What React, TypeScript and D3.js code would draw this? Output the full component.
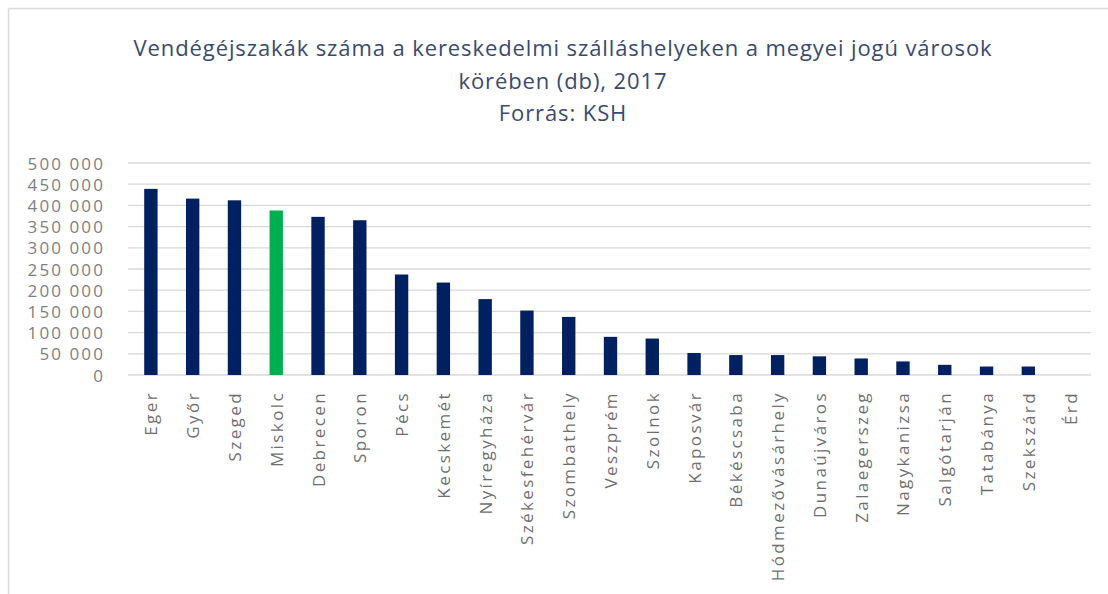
import React from "react";
import * as d3 from "d3";

const categories = [
  "Eger", "Győr", "Szeged", "Miskolc", "Debrecen", "Sporon", "Pécs", "Kecskemét",
  "Nyíregyháza", "Székesfehérvár", "Szombathely", "Veszprém", "Szolnok", "Kaposvár",
  "Békéscsaba", "Hódmezővásárhely", "Dunaújváros", "Zalaegerszeg", "Nagykanizsa",
  "Salgótarján", "Tatabánya", "Szekszárd", "Érd",
];
const values = [
  439000, 416000, 412000, 388000, 373000, 365000, 237000, 218000,
  179000, 152000, 137000, 90000, 86000, 52000,
  47000, 47000, 44000, 39000, 32000,
  24000, 20000, 20000, 0,
];
const highlight = ["Miskolc"];
const yTicks = [0, 50000, 100000, 150000, 200000, 250000, 300000, 350000, 400000, 450000, 500000];
const titleLines = [
  "Vendégéjszakák száma a kereskedelmi szálláshelyeken a megyei jogú városok",
  "körében (db), 2017",
  "Forrás: KSH",
];

const W = 1108;
const H = 594;

export default function App() {
  const x = d3
    .scaleBand<string>()
    .domain(categories)
    .range([130, 1091])
    .paddingInner(0.68)
    .paddingOuter(0.34);
  const y = d3.scaleLinear().domain([0, 500000]).range([375, 163]);
  const fmt = (v: number) => d3.format(",")(v).replace(/,/g, " ");
  const font = "'Open Sans', sans-serif";

  return (
    <svg
      width={W}
      height={H}
      style={{ position: "absolute", left: 0, top: 0, background: "#fff" }}
    >
      <rect x={0} y={0} width={W} height={H} fill="#fff" />
      {/* frame */}
      <line x1={8.5} y1={8.5} x2={W} y2={8.5} stroke="#d9d9d9" strokeWidth={1.5} />
      <line x1={8.5} y1={8.5} x2={8.5} y2={H} stroke="#d9d9d9" strokeWidth={1.5} />

      {/* title */}
      {titleLines.map((t, i) => (
        <text
          key={i}
          x={563}
          y={47 + i * 32.5}
          textAnchor="middle"
          dominantBaseline="central"
          fontFamily={font}
          fontSize={22}
          letterSpacing={0.9}
          fill="#3a4a6e"
        >
          {t}
        </text>
      ))}

      {/* gridlines */}
      {yTicks.map((t) => (
        <line
          key={t}
          x1={128}
          x2={1091}
          y1={y(t)}
          y2={y(t)}
          stroke="#d9d9d9"
          strokeWidth={1.3}
        />
      ))}

      {/* y labels */}
      {yTicks.map((t) => (
        <text
          key={"l" + t}
          x={105}
          y={y(t)}
          textAnchor="end"
          dominantBaseline="central"
          fontFamily={font}
          fontSize={17}
          letterSpacing={2.1}
          fill="#7f7f7f"
        >
          {fmt(t)}
        </text>
      ))}

      {/* bars */}
      {categories.map((c, i) => (
        <rect
          key={c}
          x={x(c)}
          width={x.bandwidth()}
          y={y(values[i])}
          height={y(0) - y(values[i])}
          fill={highlight.includes(c) ? "#00b050" : "#002060"}
        />
      ))}

      {/* x labels */}
      {categories.map((c) => {
        const cx = (x(c) as number) + x.bandwidth() / 2;
        return (
          <text
            key={"x" + c}
            transform={`translate(${cx},391) rotate(-90)`}
            textAnchor="end"
            dominantBaseline="central"
            fontFamily={font}
            fontSize={17}
            letterSpacing={2.4}
            fill="#6f6f6f"
          >
            {c}
          </text>
        );
      })}
    </svg>
  );
}
